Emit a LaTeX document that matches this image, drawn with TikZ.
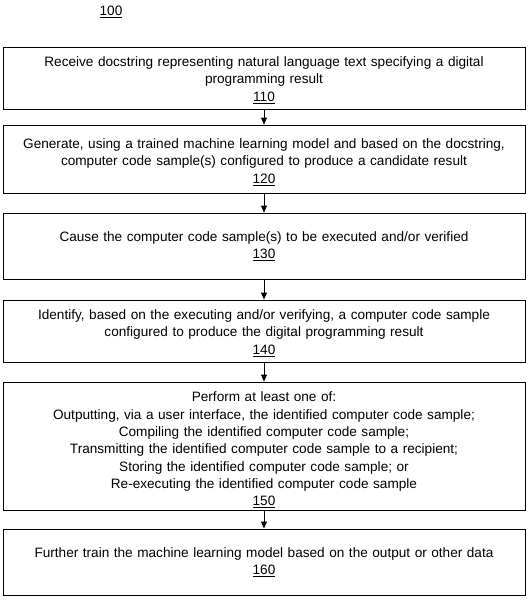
\documentclass[tikz,border=0pt]{standalone}
\usepackage{fontspec}
\setmainfont{Liberation Sans}
\usetikzlibrary{arrows.meta}
\tikzset{
  stepbox/.style={draw=black, line width=0.9pt, minimum width=522pt, inner sep=0pt},
  steptext/.style={inner sep=0pt, text width=515pt, align=center, font=\fontsize{13.6}{17.4}\selectfont},
  arr/.style={-{Triangle[width=6pt,length=7pt]}, line width=0.9pt},
  lbl/.style={font=\fontsize{13.6}{17.4}\selectfont, inner sep=0pt}
}
\begin{document}
\begin{tikzpicture}[x=1pt,y=1pt]
\useasboundingbox (0,0) rectangle (530,-600);
\node[lbl] (t100) at (111,-12) {\underline{100}};
\node[stepbox, minimum height=62pt] (b1) at (264,-78) {};
\node[stepbox, minimum height=68pt] (b2) at (264,-159) {};
\node[stepbox, minimum height=66pt] (b3) at (264,-246) {};
\node[stepbox, minimum height=62pt] (b4) at (264,-331) {};
\node[stepbox, minimum height=128pt] (b5) at (264,-446) {};
\node[stepbox, minimum height=66pt] (b6) at (264,-562) {};
\node[steptext, yshift=-2pt] (t1) at (b1.center) {Receive docstring representing natural language text specifying a digital\\ programming result\\ \underline{110}};
\node[steptext, yshift=-3pt] (t2) at (b2.center) {Generate, using a trained machine learning model and based on the docstring,\\ computer code sample(s) configured to produce a candidate result\\ \underline{120}};
\node[steptext] (t3) at (b3.center) {Cause the computer code sample(s) to be executed and/or verified\\ \underline{130}};
\node[steptext, yshift=-2pt] (t4) at (b4.center) {Identify, based on the executing and/or verifying, a computer code sample\\ configured to produce the digital programming result\\ \underline{140}};
\node[steptext, yshift=-4pt, font=\fontsize{13.6}{17.3}\selectfont] (t5) at (b5.center) {Perform at least one of:\\ Outputting, via a user interface, the identified computer code sample;\\ Compiling the identified computer code sample;\\ Transmitting the identified computer code sample to a recipient;\\ Storing the identified computer code sample; or\\ Re-executing the identified computer code sample\\ \underline{150}};
\node[steptext] (t6) at (b6.center) {Further train the machine learning model based on the output or other data\\ \underline{160}};
\draw[arr] (b1.south) -- (b2.north);
\draw[arr] (b2.south) -- (b3.north);
\draw[arr] (b3.south) -- (b4.north);
\draw[arr] (b4.south) -- (b5.north);
\draw[arr] (b5.south) -- (b6.north);
\end{tikzpicture}
\end{document}
